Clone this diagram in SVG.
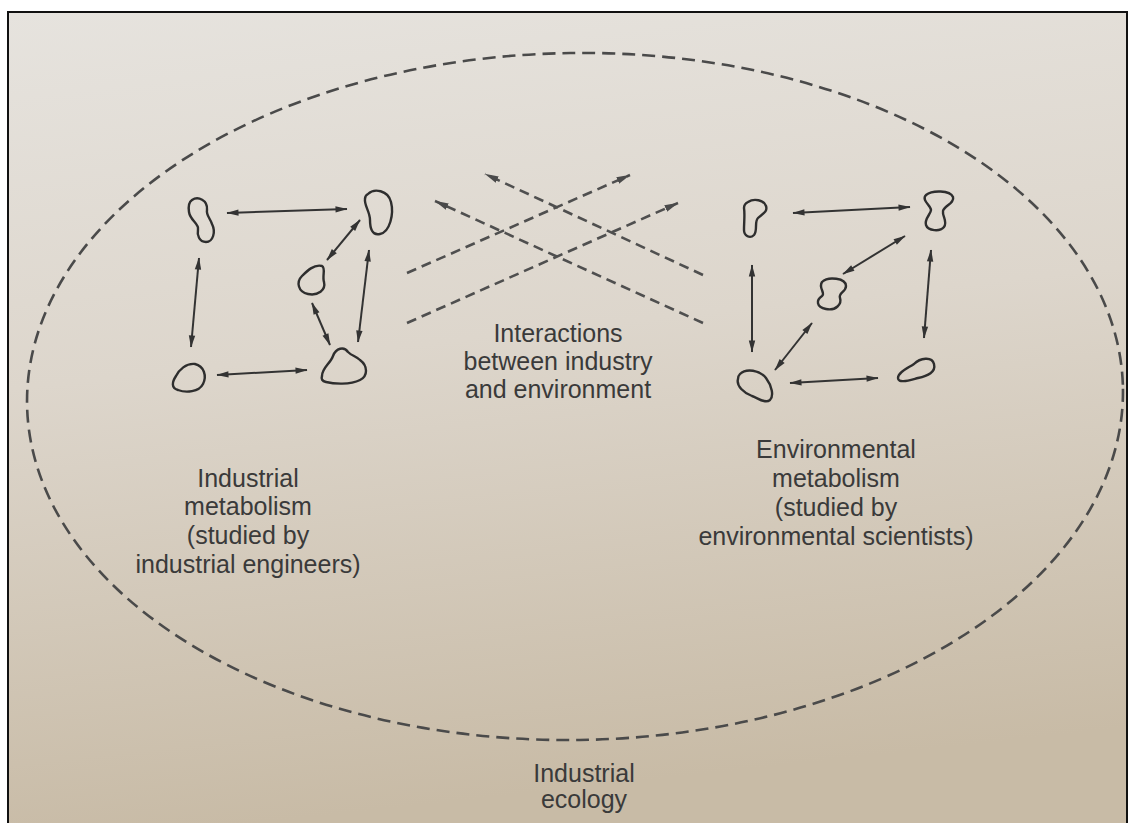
<svg xmlns="http://www.w3.org/2000/svg" width="1130" height="823" viewBox="0 0 1130 823">
  <defs>
    <linearGradient id="bg" x1="0" y1="0" x2="0.15" y2="1">
      <stop offset="0" stop-color="#e6e3de"/>
      <stop offset="0.45" stop-color="#ddd6cc"/>
      <stop offset="1" stop-color="#c8bba6"/>
    </linearGradient>
    <marker id="ah" viewBox="0 0 12 8" refX="11.5" refY="4" markerWidth="13" markerHeight="8" markerUnits="userSpaceOnUse" orient="auto-start-reverse">
      <path d="M0,0.8 L12,4 L0,7.2 Z" fill="#333"/>
    </marker>
    <marker id="ahd" viewBox="0 0 14 9" refX="13.5" refY="4.5" markerWidth="14" markerHeight="9" markerUnits="userSpaceOnUse" orient="auto">
      <path d="M0,1 L14,4.5 L0,8 Z" fill="#4a4a4a"/>
    </marker>
  </defs>
  <style>
    .blob { fill: none; stroke: #2e2e2e; stroke-width: 2.4; stroke-linejoin: round; }
    .arr { stroke: #333; stroke-width: 2; fill: none; marker-start: url(#ah); marker-end: url(#ah); }
    .dash { stroke: #4f4f4f; stroke-width: 2.6; fill: none; stroke-dasharray: 10 6; marker-end: url(#ahd); }
    .lbl { font-family: "Liberation Sans", Arial, sans-serif; font-size: 25px; fill: #3a3a3a; text-anchor: middle; }
  </style>

  <rect x="0" y="0" width="1130" height="823" fill="#ffffff"/>
  <rect x="8" y="12" width="1119" height="820" fill="url(#bg)" stroke="#111" stroke-width="2"/>

  <g id="boundary">
    <ellipse cx="575" cy="396.5" rx="548" ry="343.5" transform="rotate(-0.8 575 396.5)" fill="none" stroke="#4a4a4a" stroke-width="2.6" stroke-dasharray="13 7"/>
  </g>

  <g id="industrial-nodes">
    <path id="blob-a" class="blob" d="M192,200 C198,196 208,200 207,210 C206,215 210,218 212,224 C216,232 213,242 206,242 C199,242 197,235 198,229 C199,224 190,220 189,212 C188,205 189,202 192,200 Z"/>
    <path id="blob-b" class="blob" d="M368,194 C374,188 388,190 391,202 C394,214 390,232 380,234 C372,236 370,228 370,220 C370,212 364,205 365,199 C365,197 366,195 368,194 Z"/>
    <path id="blob-c" class="blob" d="M322,266 C326,268 322,276 324,282 C326,290 318,296 308,294 C298,292 296,282 302,276 C307,271 314,264 322,266 Z"/>
    <path id="blob-d" class="blob" d="M322,376 C322,368 330,364 333,356 C336,348 344,346 348,352 C352,356 356,356 360,360 C368,366 368,376 360,380 C350,385 334,384 326,382 C322,381 321,379 322,376 Z"/>
    <path id="blob-e" class="blob" d="M176,376 C179,370 186,363 195,364 C204,366 207,376 203,384 C199,392 186,393 178,390 C171,388 172,382 176,376 Z"/>
  </g>

  <g id="environmental-nodes">
    <path id="blob-f" class="blob" d="M748,202 C754,198 764,200 766,206 C768,212 762,214 758,218 C754,222 758,230 754,235 C750,239 744,236 744,230 C744,222 745,214 744,208 C744,204 746,203 748,202 Z"/>
    <path id="blob-g" class="blob" d="M926,195 C932,190 950,190 953,197 C955,203 944,206 943,211 C942,216 948,222 944,227 C940,232 928,231 926,225 C924,219 931,214 931,210 C931,206 921,200 926,195 Z"/>
    <path id="blob-h" class="blob" d="M822,282 C828,276 846,278 846,286 C846,292 838,293 840,298 C842,304 836,311 826,309 C816,307 816,300 822,296 C826,293 818,288 822,282 Z"/>
    <path id="blob-i" class="blob" d="M740,374 C746,368 760,370 766,378 C772,386 774,396 770,400 C765,404 758,398 752,396 C744,393 736,386 738,379 C738,377 739,375 740,374 Z"/>
    <path id="blob-j" class="blob" d="M898,378 C898,372 908,368 914,364 C920,358 932,356 934,364 C936,372 928,376 918,378 C910,380 898,384 898,378 Z"/>
  </g>

  <g id="connectors">
    <line class="arr" x1="227" y1="213" x2="347" y2="209"/>
    <line class="arr" x1="199" y1="258" x2="191" y2="347"/>
    <line class="arr" x1="217" y1="375" x2="307" y2="370"/>
    <line class="arr" x1="369" y1="250" x2="358" y2="342"/>
    <line class="arr" x1="360" y1="220" x2="327" y2="260"/>
    <line class="arr" x1="312" y1="303" x2="330" y2="345"/>

    <line class="arr" x1="793" y1="213" x2="910" y2="207"/>
    <line class="arr" x1="752" y1="265" x2="752" y2="352"/>
    <line class="arr" x1="931" y1="250" x2="924" y2="338"/>
    <line class="arr" x1="905" y1="236" x2="843" y2="274"/>
    <line class="arr" x1="812" y1="323" x2="775" y2="370"/>
    <line class="arr" x1="790" y1="383" x2="878" y2="378"/>

    <line class="dash" x1="407" y1="273" x2="630" y2="175"/>
    <line class="dash" x1="407" y1="323" x2="678" y2="203"/>
    <line class="dash" x1="703" y1="275" x2="485" y2="174"/>
    <line class="dash" x1="703" y1="323" x2="435" y2="201"/>
  </g>

  <g id="label-interactions">
    <text class="lbl" x="558" y="342">Interactions</text>
    <text class="lbl" x="558" y="370">between industry</text>
    <text class="lbl" x="558" y="398">and environment</text>
  </g>
  <g id="label-industrial">
    <text class="lbl" x="248" y="487">Industrial</text>
    <text class="lbl" x="248" y="515">metabolism</text>
    <text class="lbl" x="248" y="544">(studied by</text>
    <text class="lbl" x="248" y="573">industrial engineers)</text>
  </g>
  <g id="label-environmental">
    <text class="lbl" x="836" y="458">Environmental</text>
    <text class="lbl" x="836" y="487">metabolism</text>
    <text class="lbl" x="836" y="516">(studied by</text>
    <text class="lbl" x="836" y="545">environmental scientists)</text>
  </g>
  <g id="label-ecology">
    <text class="lbl" x="584" y="782">Industrial</text>
    <text class="lbl" x="584" y="808">ecology</text>
  </g>
</svg>
